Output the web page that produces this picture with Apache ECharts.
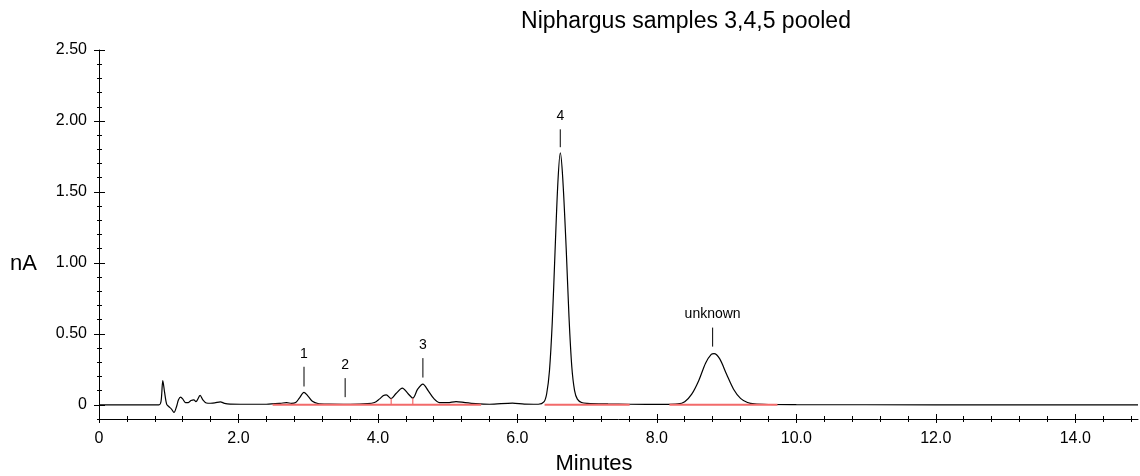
<!DOCTYPE html>
<html><head><meta charset="utf-8">
<script src="https://cdn.jsdelivr.net/npm/echarts@6/dist/echarts.min.js"></script>
<style>html,body{margin:0;padding:0;background:#fff}#c{width:1140px;height:476px}</style>
</head><body><div id="c"></div>
<script>
// Retention time (minutes) and detector signal (nA)
const times = [0.00,0.50,0.86,0.89,0.915,0.94,0.97,1.00,1.04,1.075,1.11,1.14,1.17,1.20,1.24,1.28,1.32,1.36,1.39,1.45,1.49,1.54,1.60,1.66,1.74,1.80,1.88,2.10,2.40,2.60,2.69,2.76,2.82,2.87,2.94,3.00,3.06,3.14,3.30,3.60,3.85,3.95,4.02,4.08,4.12,4.19,4.26,4.35,4.43,4.50,4.57,4.645,4.72,4.80,4.88,5.00,5.12,5.25,5.40,5.60,5.93,6.10,6.30,6.38,6.42,6.46,6.50,6.54,6.58,6.615,6.65,6.70,6.74,6.78,6.82,6.86,6.92,7.00,7.30,7.60,8.10,8.30,8.40,8.50,8.60,8.70,8.78,8.82,8.90,9.00,9.10,9.20,9.30,9.40,9.60,10.0,12.0,14.9];
const signal = [0.000,0.000,0.000,0.025,0.171,0.090,0.005,-0.012,-0.030,-0.054,-0.015,0.035,0.054,0.042,0.015,0.016,0.030,0.035,0.022,0.066,0.035,0.013,0.011,0.013,0.021,0.010,0.005,0.004,0.004,0.010,0.016,0.010,0.016,0.045,0.087,0.060,0.025,0.009,0.005,0.004,0.008,0.016,0.040,0.065,0.070,0.044,0.080,0.117,0.080,0.047,0.110,0.146,0.100,0.045,0.016,0.015,0.023,0.015,0.008,0.004,0.012,0.005,0.004,0.020,0.078,0.240,0.580,1.080,1.560,1.775,1.600,1.100,0.620,0.270,0.100,0.040,0.016,0.010,0.006,0.004,0.003,0.006,0.022,0.075,0.170,0.295,0.355,0.360,0.325,0.215,0.110,0.045,0.016,0.006,0.002,0.001,0.000,0.000];

// Peak annotations
const peakNames = ['1','2','3','4','unknown'];
const peakTimes = [2.94,3.53,4.645,6.615,8.80];
const peakMarkLow = [0.129,0.054,0.192,1.815,0.410];
const peakMarkHigh = [0.268,0.188,0.329,1.941,0.544];

// Integration baselines (red) and peak drop lines
const baseStart = [2.49,6.39,8.18];
const baseEnd = [5.48,7.61,9.73];
const dropTimes = [4.19,4.50];
const dropHeights = [0.044,0.047];

// Ticks
const xMajorTicks = [0,2,4,6,8,10,12,14];
const xMinorTicks = [0,0.4,0.8,1.2,1.6,2.0,2.4,2.8,3.2,3.6,4.0,4.4,4.8,5.2,5.6,6.0,6.4,6.8,7.2,7.6,8.0,8.4,8.8,9.2,9.6,10.0,10.4,10.8,11.2,11.6,12.0,12.4,12.8,13.2,13.6,14.0,14.4,14.8];
const yMajorTicks = [0,0.5,1.0,1.5,2.0,2.5];
const yMinorTicks = [-0.1,0,0.1,0.2,0.3,0.4,0.5,0.6,0.7,0.8,0.9,1.0,1.1,1.2,1.3,1.4,1.5,1.6,1.7,1.8,1.9,2.0,2.1,2.2,2.3,2.4,2.5];

const FONT = '"Liberation Sans", Arial, Helvetica, sans-serif';
const X_MIN = 0, X_MAX = 14.9, Y_MIN = -0.1, Y_MAX = 2.5;
const gridBox = {left: 99, right: 2, top: 50, bottom: 57};

function mkGrid() { return Object.assign({}, gridBox); }
function mkX(i, ticks, inside, len, withLine, withLabel) {
  return {
    type: 'value', gridIndex: i, min: X_MIN, max: X_MAX, position: 'bottom',
    axisLine: {show: withLine, onZero: false, lineStyle: {color: '#000', width: 1}},
    axisTick: {show: true, customValues: ticks, inside: inside, length: len, lineStyle: {color: '#000', width: 1}},
    axisLabel: withLabel ? {show: true, customValues: xMajorTicks, margin: 12, color: '#000', fontSize: 16, fontFamily: FONT,
      formatter: v => v === 0 ? '0' : v.toFixed(1)} : {show: false},
    splitLine: {show: false}, minorTick: {show: false}
  };
}
function mkY(i, ticks, inside, len, withLine, withLabel) {
  return {
    type: 'value', gridIndex: i, min: Y_MIN, max: Y_MAX, position: 'left',
    axisLine: {show: withLine, onZero: false, lineStyle: {color: '#000', width: 1}},
    axisTick: {show: true, customValues: ticks, inside: inside, length: len, lineStyle: {color: '#000', width: 1}},
    axisLabel: withLabel ? {show: true, customValues: yMajorTicks, margin: 12, color: '#000', fontSize: 16, fontFamily: FONT,
      formatter: v => v === 0 ? '0' : v.toFixed(2)} : {show: false},
    splitLine: {show: false}, minorTick: {show: false}
  };
}

const chart = echarts.init(document.getElementById('c'), null, {renderer: 'canvas'});
chart.setOption({
  animation: false,
  backgroundColor: '#fff',
  grid: [mkGrid(), mkGrid(), mkGrid(), mkGrid()],
  xAxis: [mkX(0, xMajorTicks, false, 4, true, true), mkX(1, xMajorTicks, true, 5, false, false),
          mkX(2, xMinorTicks, false, 3, false, false), mkX(3, xMinorTicks, true, 3, false, false)],
  yAxis: [mkY(0, yMajorTicks, false, 5, true, true), mkY(1, yMajorTicks, true, 6, false, false),
          mkY(2, yMinorTicks, false, 2, false, false), mkY(3, yMinorTicks, true, 3, false, false)],
  graphic: [
    {type: 'text', x: 686, y: 22, style: {text: 'Niphargus samples 3,4,5 pooled', align: 'center', verticalAlign: 'middle', font: '23px ' + FONT, fill: '#000'}},
    {type: 'text', x: 10, y: 264, style: {text: 'nA', align: 'left', verticalAlign: 'middle', font: '22px ' + FONT, fill: '#000'}},
    {type: 'text', x: 594, y: 464, style: {text: 'Minutes', align: 'center', verticalAlign: 'middle', font: '22px ' + FONT, fill: '#000'}}
  ],
  series: [
    {
      type: 'line', xAxisIndex: 0, yAxisIndex: 0, showSymbol: false, smooth: 0.3, z: 3,
      lineStyle: {color: '#000', width: 1.2},
      data: times.map((t, i) => [t, signal[i]])
    },
    {
      type: 'custom', xAxisIndex: 0, yAxisIndex: 0, z: 4,
      data: baseStart.map((s, i) => [s, baseEnd[i]]),
      renderItem: (params, api) => {
        const a = api.coord([api.value(0), 0]);
        const b = api.coord([api.value(1), 0]);
        return {type: 'line', shape: {x1: a[0], y1: a[1], x2: b[0], y2: b[1]}, style: {stroke: '#f26a6a', lineWidth: 2}};
      }
    },
    {
      type: 'custom', xAxisIndex: 0, yAxisIndex: 0, z: 4,
      data: dropTimes.map((t, i) => [t, dropHeights[i]]),
      renderItem: (params, api) => {
        const a = api.coord([api.value(0), 0]);
        const b = api.coord([api.value(0), api.value(1)]);
        return {type: 'line', shape: {x1: a[0], y1: a[1], x2: b[0], y2: b[1]}, style: {stroke: '#f26a6a', lineWidth: 1.2}};
      }
    },
    {
      type: 'custom', xAxisIndex: 0, yAxisIndex: 0, z: 5,
      data: peakTimes.map((t, i) => [t, peakMarkLow[i], peakMarkHigh[i]]),
      renderItem: (params, api) => {
        const a = api.coord([api.value(0), api.value(1)]);
        const b = api.coord([api.value(0), api.value(2)]);
        return {type: 'group', children: [
          {type: 'line', shape: {x1: a[0], y1: a[1], x2: b[0], y2: b[1]}, style: {stroke: '#000', lineWidth: 1}},
          {type: 'text', style: {text: peakNames[params.dataIndex], x: b[0], y: b[1] - 6, align: 'center', verticalAlign: 'bottom', font: '14px ' + FONT, fill: '#000'}}
        ]};
      }
    }
  ]
});
</script></body></html>
